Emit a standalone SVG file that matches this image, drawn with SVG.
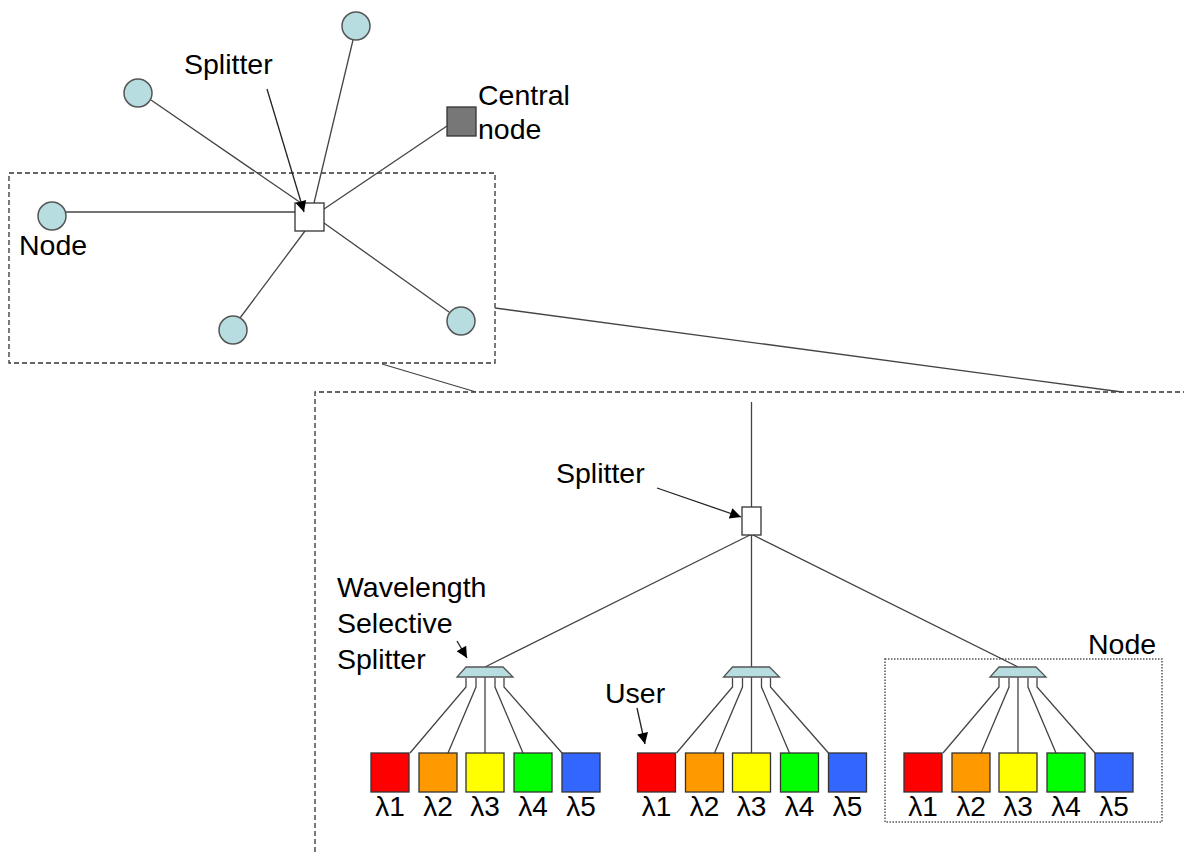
<svg xmlns="http://www.w3.org/2000/svg" width="1184" height="856" viewBox="0 0 1184 856">
<style>
.t{font-family:"Liberation Sans",Arial,sans-serif;font-size:28.5px;fill:#000}
.lm{font-family:"Liberation Sans",Arial,sans-serif;font-size:28px;fill:#000;text-anchor:middle}
.c{stroke:#444;stroke-width:1.3;fill:none}
.dash{stroke:#333;stroke-width:1.3;fill:none;stroke-dasharray:5 3}
.dot{stroke:#555;stroke-width:1.5;fill:none;stroke-dasharray:1.5 1.5}
.nd{fill:#b7dde0;stroke:#555;stroke-width:1.5}
.sq{fill:#fff;stroke:#333;stroke-width:1.3}
.wss{fill:#b7dde0;stroke:#555;stroke-width:1.3}
.bx{stroke:#333;stroke-width:1.3}
.ar{stroke:#222;stroke-width:1.3;fill:none}
</style>
<defs>
<marker id="ahb" viewBox="0 0 10 10" refX="10" refY="5" markerWidth="13" markerHeight="11" orient="auto" markerUnits="userSpaceOnUse">
<path d="M0,0 L10,5 L0,10 z" fill="#000"/>
</marker>
<g id="grp">
<g class="c">
<path d="M-19,678 V687 L-75,753 M-9,678 V687 L-37,753 M0,668 V753 M10,678 V687 L38,753 M19,678 V687 L77,753"/>
</g>
<path class="wss" d="M-19,667 H18 L28,677 H-28 z"/>
<rect class="bx" x="-114" y="753" width="38" height="39" fill="#ff0000"/>
<rect class="bx" x="-66" y="753" width="38" height="39" fill="#ff9900"/>
<rect class="bx" x="-19" y="753" width="38" height="39" fill="#ffff00"/>
<rect class="bx" x="29" y="753" width="38" height="39" fill="#00ff00"/>
<rect class="bx" x="77" y="753" width="38" height="39" fill="#3366ff"/>
<text class="lm" x="-95" y="816">λ1</text>
<text class="lm" x="-47" y="816">λ2</text>
<text class="lm" x="0" y="816">λ3</text>
<text class="lm" x="48" y="816">λ4</text>
<text class="lm" x="96" y="816">λ5</text>
</g>
</defs>

<g id="frames">
<rect class="dash" x="9" y="173" width="486" height="190"/>
<path class="dash" d="M315,852 V392 H1184"/>
<rect class="dot" x="885" y="659" width="277" height="163"/>
</g>

<g id="connectors">
<line class="c" x1="66" y1="212" x2="295" y2="212"/>
<line class="c" x1="151" y1="100" x2="301" y2="203"/>
<line class="c" x1="353" y1="40" x2="314" y2="203"/>
<line class="c" x1="447" y1="126" x2="324" y2="209"/>
<line class="c" x1="305" y1="231" x2="240" y2="318"/>
<line class="c" x1="324" y1="223" x2="449" y2="312"/>
<line class="c" x1="495" y1="308" x2="1122" y2="392"/>
<line class="c" x1="382" y1="364" x2="476" y2="392"/>
<line class="c" x1="751.5" y1="402" x2="751.5" y2="507"/>
<line class="c" x1="750" y1="535" x2="485" y2="667"/>
<line class="c" x1="751.5" y1="535" x2="751.5" y2="667"/>
<line class="c" x1="753" y1="535" x2="1018" y2="667"/>
</g>

<g id="node-top"><circle class="nd" cx="356" cy="26" r="14"/></g>
<g id="node-upleft"><circle class="nd" cx="138" cy="93" r="14"/></g>
<g id="node-left"><circle class="nd" cx="52" cy="216" r="14"/></g>
<g id="node-bottom"><circle class="nd" cx="233" cy="330" r="14"/></g>
<g id="node-right"><circle class="nd" cx="461" cy="321" r="14"/></g>
<g id="central-node"><rect x="447" y="107" width="29" height="29" fill="#777" stroke="#333" stroke-width="1.3"/></g>
<g id="splitter-top"><rect class="sq" x="295" y="203" width="29" height="28"/></g>
<g id="splitter-bottom"><rect class="sq" x="742" y="507" width="19" height="28"/></g>

<g id="group-left"><use href="#grp" x="485"/></g>
<g id="group-middle"><use href="#grp" x="751.5"/></g>
<g id="group-right"><use href="#grp" x="1018"/></g>

<g id="callouts">
<line class="ar" x1="267" y1="89" x2="304" y2="212" marker-end="url(#ahb)"/>
<line class="ar" x1="657" y1="488" x2="741" y2="517" marker-end="url(#ahb)"/>
<line class="ar" x1="457" y1="641" x2="467" y2="658" marker-end="url(#ahb)"/>
<line class="ar" x1="637" y1="708" x2="645" y2="744" marker-end="url(#ahb)"/>
</g>

<g id="labels">
<text class="t" x="184" y="74">Splitter</text>
<text class="t" x="478" y="105">Central</text>
<text class="t" x="478" y="139">node</text>
<text class="t" x="19" y="255">Node</text>
<text class="t" x="556" y="483">Splitter</text>
<text class="t" x="337" y="597">Wavelength</text>
<text class="t" x="337" y="633">Selective</text>
<text class="t" x="337" y="669">Splitter</text>
<text class="t" x="605" y="703">User</text>
<text class="t" x="1088" y="654">Node</text>
</g>
</svg>
